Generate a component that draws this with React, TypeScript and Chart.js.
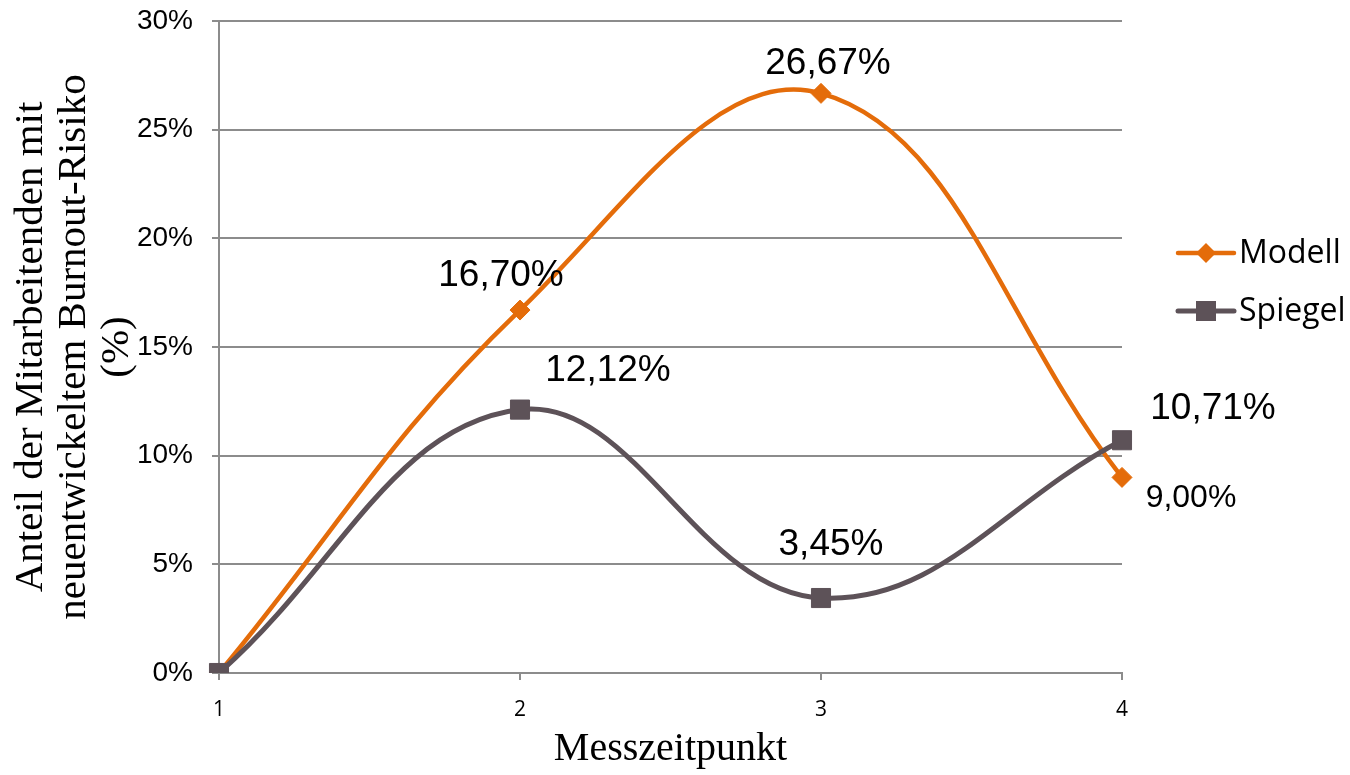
import React, { useEffect, useRef } from 'react';
import { Chart, registerables } from 'chart.js';

Chart.register(...registerables);

// ---- data ----
const categories = ['1', '2', '3', '4'];
const modellValues = [0, 16.7, 26.67, 9.0];
const spiegelValues = [0, 12.12, 3.45, 10.71];
const yMin = 0;
const yMax = 30;
const yStep = 5;
const seriesNames = ['Modell', 'Spiegel'];
const xTitle = 'Messzeitpunkt';
const yTitle = ['Anteil der Mitarbeitenden mit', 'neuentwickeltem Burnout-Risiko', '(%)'];

// ---- label styling (offsets from the point, font size; null = no label) ----
const modellLabelStyle: ([number, number, number] | null)[] = [null, [-19, -34, 37], [7, -30, 37], [69, 21, 32]];
const spiegelLabelStyle: ([number, number, number] | null)[] = [null, [88, -39, 37], [10, -53, 37], [91, -31, 37]];

const ORANGE = '#e46c0a';
const GREY = '#5d5258';
const GRID = '#8c8c8c';

const fmt = (v: number) => v.toFixed(2).replace('.', ',') + '%';

const dataLabelPlugin = {
  id: 'dataLabels',
  afterDatasetsDraw(chart: any) {
    const ctx = chart.ctx;
    ctx.save();
    ctx.fillStyle = '#000';
    ctx.textAlign = 'center';
    ctx.textBaseline = 'middle';
    chart.data.datasets.forEach((ds: any, di: number) => {
      const meta = chart.getDatasetMeta(di);
      const styles = ds.labelStyle as ([number, number, number] | null)[];
      meta.data.forEach((pt: any, i: number) => {
        const st = styles[i];
        if (!st) return;
        ctx.font = `${st[2]}px "Liberation Sans", Arial, sans-serif`;
        ctx.fillText(fmt(ds.data[i]), pt.x + st[0], pt.y + st[1]);
      });
    });
    ctx.restore();
  },
};

const legendPlugin = {
  id: 'customLegend',
  afterDraw(chart: any) {
    const ctx = chart.ctx;
    const area = chart.chartArea;
    ctx.save();
    chart.data.datasets.forEach((ds: any, i: number) => {
      const x0 = area.right + 56;
      const x1 = x0 + 56;
      const y = area.top + 232 + i * 58;
      ctx.strokeStyle = ds.borderColor;
      ctx.lineWidth = ds.borderWidth;
      ctx.lineCap = 'round';
      ctx.beginPath();
      ctx.moveTo(x0, y);
      ctx.lineTo(x1, y);
      ctx.stroke();
      ctx.fillStyle = ds.pointBackgroundColor;
      const cx = (x0 + x1) / 2;
      if (ds.pointStyle === 'rectRot') {
        const r = 10;
        ctx.beginPath();
        ctx.moveTo(cx, y - r);
        ctx.lineTo(cx + r, y);
        ctx.lineTo(cx, y + r);
        ctx.lineTo(cx - r, y);
        ctx.closePath();
        ctx.fill();
      } else {
        ctx.fillRect(cx - 10, y - 10, 20, 20);
      }
      ctx.fillStyle = '#000';
      ctx.font = '32px "Open Sans", sans-serif';
      ctx.textAlign = 'left';
      ctx.textBaseline = 'middle';
      ctx.fillText(ds.label, x1 + 5, y + 1);
    });
    ctx.restore();
  },
};

export default function App() {
  const canvasRef = useRef<HTMLCanvasElement | null>(null);

  useEffect(() => {
    if (!canvasRef.current) return;
    const chart = new Chart(canvasRef.current, {
      type: 'line',
      data: {
        labels: categories,
        datasets: [
          {
            label: seriesNames[0],
            data: modellValues,
            borderColor: ORANGE,
            backgroundColor: ORANGE,
            pointBackgroundColor: ORANGE,
            pointBorderColor: ORANGE,
            borderWidth: 4.5,
            pointStyle: 'rectRot',
            pointRadius: 10,
            pointBorderWidth: 1,
            tension: 0.4,
            order: 1,
            labelStyle: modellLabelStyle,
          } as any,
          {
            label: seriesNames[1],
            data: spiegelValues,
            borderColor: GREY,
            backgroundColor: GREY,
            pointBackgroundColor: GREY,
            pointBorderColor: GREY,
            borderWidth: 5,
            pointStyle: 'rect',
            pointRadius: 13.5,
            pointBorderWidth: 1,
            tension: 0.4,
            order: 0,
            labelStyle: spiegelLabelStyle,
          } as any,
        ],
      },
      options: {
        animation: false,
        responsive: true,
        maintainAspectRatio: false,
        layout: { padding: { top: 21, right: 228, bottom: 0, left: 0 } },
        plugins: {
          legend: { display: false },
          tooltip: { enabled: false },
        },
        scales: {
          x: {
            offset: false,
            grid: {
              display: true,
              drawOnChartArea: false,
              drawTicks: true,
              tickLength: 7,
              color: GRID,
              lineWidth: 2,
            },
            border: { display: true, color: GRID, width: 2 },
            ticks: {
              color: '#000',
              padding: 17,
              font: { family: '"Open Sans", sans-serif', size: 21 },
              maxRotation: 0,
            },
            title: {
              display: true,
              text: xTitle,
              color: '#000',
              font: { family: '"Liberation Serif", "Times New Roman", serif', size: 40, lineHeight: 1.0 },
              padding: { top: 0, bottom: 6 },
            },
            afterFit: (scale: any) => {
              scale.height = 102;
            },
          },
          y: {
            min: yMin,
            max: yMax,
            grid: {
              color: GRID,
              lineWidth: 2,
              tickLength: 7,
              drawTicks: true,
            },
            border: { display: true, color: GRID, width: 2 },
            ticks: {
              stepSize: yStep,
              color: '#000',
              padding: 19,
              font: { family: '"Liberation Sans", Arial, sans-serif', size: 28 },
              callback: (v: any) => `${v}%`,
            },
            title: {
              display: true,
              text: yTitle,
              color: '#000',
              font: { family: '"Liberation Serif", "Times New Roman", serif', size: 41, lineHeight: 1.05 },
              padding: { top: 10, bottom: 0 },
            },
            afterFit: (scale: any) => {
              scale.width = 219;
              scale.paddingTop = 0;
              scale.paddingBottom = 0;
            },
          },
        },
      },
      plugins: [dataLabelPlugin, legendPlugin],
    });
    return () => chart.destroy();
  }, []);

  return (
    <div style={{ position: 'fixed', left: 0, top: 0, width: 1350, height: 775, background: '#fff' }}>
      <canvas ref={canvasRef} />
    </div>
  );
}
